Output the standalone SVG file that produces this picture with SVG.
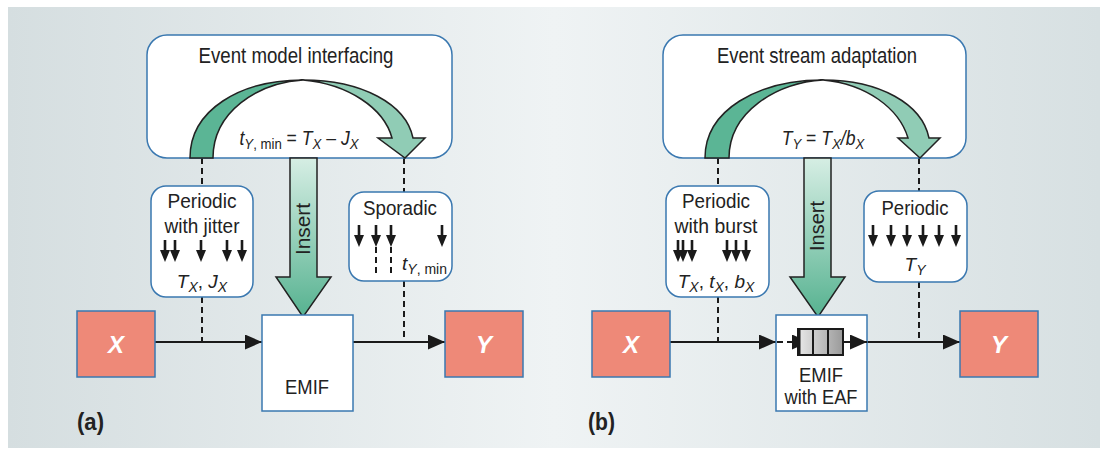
<svg xmlns="http://www.w3.org/2000/svg" width="1108" height="454" viewBox="0 0 1108 454">
<defs>
<linearGradient id="bg" x1="0" y1="0" x2="1" y2="0">
<stop offset="0" stop-color="#d5dee0"/>
<stop offset="0.5" stop-color="#eff3f4"/>
<stop offset="1" stop-color="#d7e0e2"/>
</linearGradient>
<linearGradient id="ins" x1="0" y1="0" x2="0" y2="1">
<stop offset="0" stop-color="#d6eee4"/>
<stop offset="1" stop-color="#56b290"/>
</linearGradient>
<linearGradient id="q" x1="0" y1="0" x2="1" y2="0">
<stop offset="0" stop-color="#e8e8e8"/>
<stop offset="1" stop-color="#9a9a9a"/>
</linearGradient>
<marker id="ah" markerUnits="userSpaceOnUse" markerWidth="17" markerHeight="15" refX="17" refY="7.5" orient="auto">
<path d="M0,0 L17,7.5 L0,15 Z" fill="#1a1a1a"/>
</marker>
<g id="dn"><rect x="-1.3" y="0" width="2.6" height="12" fill="#1a1a1a"/><path d="M-5,10 L5,10 L0,22 Z" fill="#1a1a1a"/></g>
</defs>
<style>
.box{fill:#fff;stroke:#3a78b0;stroke-width:1.5}
.xy{fill:#ee8978;stroke:#3a78b0;stroke-width:1.5}
.t{font-family:"Liberation Sans",Arial,sans-serif;fill:#222;text-anchor:middle}
.xyt{font-family:"Liberation Sans",Arial,sans-serif;fill:#fff;font-weight:bold;font-style:italic;font-size:24px;text-anchor:middle}
.lbl{font-family:"Liberation Sans",Arial,sans-serif;fill:#222;font-weight:bold;font-size:24px}
.it{font-style:italic}
.dash{stroke:#1a1a1a;stroke-width:2;stroke-dasharray:6,4;fill:none}
.ln{stroke:#1a1a1a;stroke-width:2;fill:none}
.dk{fill:#5bb595;stroke:#222;stroke-width:1.5}
.lt{fill:#90ccb5;stroke:#222;stroke-width:1.5}
.insa{fill:url(#ins);stroke:#222;stroke-width:1.5}
</style>
<rect x="8" y="7" width="1092" height="441" fill="url(#bg)"/>

<g id="connectors">
<line class="dash" x1="202" y1="158" x2="202" y2="186"/>
<line class="dash" x1="202" y1="297" x2="202" y2="342"/>
<line class="dash" x1="404" y1="158" x2="404" y2="192"/>
<line class="dash" x1="404" y1="281" x2="404" y2="342"/>
<line class="ln" x1="155" y1="342" x2="262" y2="342" marker-end="url(#ah)"/>
<line class="dash" x1="262" y1="342" x2="353" y2="342" marker-end="url(#ah)"/>
<line class="ln" x1="353" y1="342" x2="445" y2="342" marker-end="url(#ah)"/>
<line class="dash" x1="718" y1="158" x2="718" y2="186"/>
<line class="dash" x1="718" y1="297" x2="718" y2="342"/>
<line class="dash" x1="919" y1="158" x2="919" y2="191"/>
<line class="dash" x1="919" y1="282" x2="919" y2="342"/>
<line class="ln" x1="670" y1="342" x2="776" y2="342" marker-end="url(#ah)"/>
<line class="ln" x1="867" y1="342" x2="960" y2="342" marker-end="url(#ah)"/>
</g>

<!-- Panel (a) -->
<g id="emi">
<rect class="box" x="147" y="35" width="305" height="123" rx="20"/>
<text class="t" x="296" y="63" font-size="22" textLength="195" lengthAdjust="spacingAndGlyphs">Event model interfacing</text>
<path class="dk" d="M190,158 C190,110 240,80 303,80 C257,83 213,112 213,158 Z"/>
<path class="lt" d="M303,80 C362,80 406,104 413,138 L425,138 L405,158 L378,138 L392,138 C384,108 348,84 303,80 Z"/>
<g transform="translate(299,0) scale(0.88,1) translate(-299,0)">
<text class="t" x="299" y="145" font-size="20"><tspan class="it">t</tspan><tspan font-size="15" dy="4"><tspan class="it">Y</tspan>, min</tspan><tspan dy="-4"> = </tspan><tspan class="it">T</tspan><tspan class="it" font-size="15" dy="4">X</tspan><tspan dy="-4"> – </tspan><tspan class="it">J</tspan><tspan class="it" font-size="15" dy="4">X</tspan></text>
</g>
</g>
<g id="insert-a">
<path class="insa" d="M290,158 L317,158 L317,277 L331,277 L303,317 L276,277 L290,277 Z"/>
<text class="t" font-size="20" textLength="52" lengthAdjust="spacingAndGlyphs" transform="translate(310,229) rotate(-90)">Insert</text>
</g>
<g id="pj">
<rect class="box" x="151" y="186" width="102" height="111" rx="15"/>
<text class="t" x="202" y="208" font-size="20" textLength="69" lengthAdjust="spacingAndGlyphs">Periodic</text>
<text class="t" x="202" y="233" font-size="20" textLength="75" lengthAdjust="spacingAndGlyphs">with jitter</text>
<use href="#dn" x="165" y="240"/><use href="#dn" x="175" y="240"/><use href="#dn" x="201" y="240"/><use href="#dn" x="227" y="240"/><use href="#dn" x="242" y="240"/>
<text class="t" x="202" y="288" font-size="19"><tspan class="it">T</tspan><tspan class="it" font-size="14" dy="4">X</tspan><tspan dy="-4">, </tspan><tspan class="it">J</tspan><tspan class="it" font-size="14" dy="4">X</tspan></text>
</g>
<g id="spor">
<rect class="box" x="349" y="192" width="103" height="89" rx="15"/>
<text class="t" x="400" y="215" font-size="20" textLength="74" lengthAdjust="spacingAndGlyphs">Sporadic</text>
<use href="#dn" x="359" y="225"/><use href="#dn" x="376" y="225"/><use href="#dn" x="391" y="225"/><use href="#dn" x="442" y="225"/>
<line class="dash" x1="376" y1="247" x2="376" y2="273"/>
<line class="dash" x1="391" y1="247" x2="391" y2="273"/>
<text x="402" y="270" font-size="19" style="font-family:'Liberation Sans',Arial,sans-serif;fill:#222"><tspan class="it">t</tspan><tspan font-size="14" dy="4"><tspan class="it">Y</tspan>, min</tspan></text>
</g>
<g id="xa"><rect class="xy" x="77" y="311" width="78" height="66"/><text class="xyt" x="116" y="353">X</text></g>
<g id="emif-a"><rect class="box" x="262" y="315" width="91" height="96"/><text class="t" x="307" y="394" font-size="21" textLength="44" lengthAdjust="spacingAndGlyphs">EMIF</text></g>
<g id="ya"><rect class="xy" x="445" y="311" width="78" height="66"/><text class="xyt" x="484" y="353">Y</text></g>
<text class="lbl" x="77" y="430" textLength="27" lengthAdjust="spacingAndGlyphs">(a)</text>

<!-- Panel (b) -->
<g id="esa">
<rect class="box" x="663" y="35" width="303" height="123" rx="20"/>
<text class="t" x="817" y="63" font-size="22" textLength="200" lengthAdjust="spacingAndGlyphs">Event stream adaptation</text>
<path class="dk" d="M705,158 C705,110 758,80 823,80 C776,83 729,112 729,158 Z"/>
<path class="lt" d="M823,80 C880,80 922,104 929,138 L940,138 L920,158 L898,138 L908,138 C899,108 866,84 823,80 Z"/>
<g transform="translate(823,0) scale(0.88,1) translate(-823,0)">
<text class="t" x="823" y="145" font-size="20"><tspan class="it">T</tspan><tspan class="it" font-size="15" dy="4">Y</tspan><tspan dy="-4"> = </tspan><tspan class="it">T</tspan><tspan class="it" font-size="15" dy="4">X</tspan><tspan class="it" dy="-4">/b</tspan><tspan class="it" font-size="15" dy="4">X</tspan></text>
</g>
</g>
<g id="insert-b">
<path class="insa" d="M804,158 L831,158 L831,277 L845,277 L818,317 L790,277 L804,277 Z"/>
<text class="t" font-size="20" textLength="50" lengthAdjust="spacingAndGlyphs" transform="translate(824,226) rotate(-90)">Insert</text>
</g>
<g id="pb">
<rect class="box" x="666" y="186" width="103" height="111" rx="15"/>
<text class="t" x="716" y="208" font-size="20" textLength="68" lengthAdjust="spacingAndGlyphs">Periodic</text>
<text class="t" x="716" y="233" font-size="20" textLength="83" lengthAdjust="spacingAndGlyphs">with burst</text>
<use href="#dn" x="678" y="240"/><use href="#dn" x="683" y="240"/><use href="#dn" x="692" y="240"/>
<use href="#dn" x="727" y="240"/><use href="#dn" x="736" y="240"/><use href="#dn" x="746" y="240"/>
<text class="t" x="716" y="288" font-size="19"><tspan class="it">T</tspan><tspan class="it" font-size="14" dy="4">X</tspan><tspan dy="-4">, </tspan><tspan class="it">t</tspan><tspan class="it" font-size="14" dy="4">X</tspan><tspan dy="-4">, </tspan><tspan class="it">b</tspan><tspan class="it" font-size="14" dy="4">X</tspan></text>
</g>
<g id="pr">
<rect class="box" x="864" y="191" width="103" height="91" rx="15"/>
<text class="t" x="915" y="215" font-size="20" textLength="67" lengthAdjust="spacingAndGlyphs">Periodic</text>
<use href="#dn" x="873" y="225"/><use href="#dn" x="891" y="225"/><use href="#dn" x="907" y="225"/><use href="#dn" x="923" y="225"/><use href="#dn" x="939" y="225"/><use href="#dn" x="956" y="225"/>
<text class="t" x="915" y="271" font-size="19"><tspan class="it">T</tspan><tspan class="it" font-size="14" dy="4">Y</tspan></text>
</g>
<g id="xb"><rect class="xy" x="592" y="311" width="78" height="66"/><text class="xyt" x="631" y="353">X</text></g>
<g id="emif-b">
<rect class="box" x="776" y="315" width="91" height="96"/>
<line class="dash" x1="777" y1="342" x2="809" y2="342" marker-end="url(#ah)"/>
<rect x="798" y="329" width="45" height="26" fill="url(#q)" stroke="#1a1a1a" stroke-width="2"/>
<line x1="799" y1="328" x2="799" y2="356" stroke="#1a1a1a" stroke-width="3"/>
<line x1="813" y1="329" x2="813" y2="355" stroke="#1a1a1a" stroke-width="2"/>
<line x1="828" y1="329" x2="828" y2="355" stroke="#1a1a1a" stroke-width="2"/>
<line class="ln" x1="843" y1="342" x2="867" y2="342" marker-end="url(#ah)"/>
<text class="t" x="821" y="382" font-size="21" textLength="44" lengthAdjust="spacingAndGlyphs">EMIF</text>
<text class="t" x="821" y="404" font-size="21" textLength="73" lengthAdjust="spacingAndGlyphs">with EAF</text>
</g>
<g id="yb"><rect class="xy" x="960" y="311" width="78" height="66"/><text class="xyt" x="999" y="353">Y</text></g>
<text class="lbl" x="588" y="430" textLength="27" lengthAdjust="spacingAndGlyphs">(b)</text>
</svg>
